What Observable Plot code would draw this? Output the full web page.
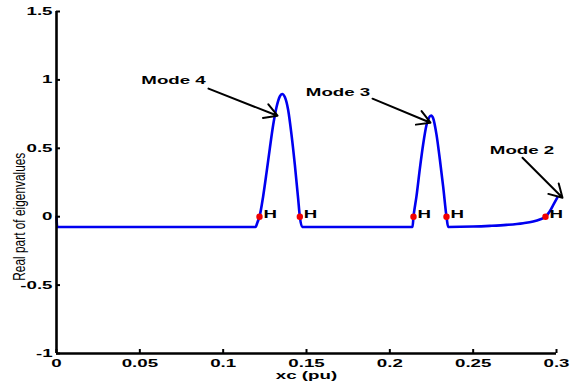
<!DOCTYPE html>
<html><head><meta charset="utf-8">
<script src="https://cdn.jsdelivr.net/npm/d3@7"></script>
<script src="https://cdn.jsdelivr.net/npm/@observablehq/plot@0.6"></script>
<style>body{margin:0;background:#fff}</style>
</head><body><div id="chart"></div>
<script>
// Curve: real part of eigenvalues vs xc
const xc = [0, 0.0004, 0.05, 0.1, 0.1194, 0.1206, 0.1218, 0.124, 0.126, 0.128, 0.130, 0.132, 0.134, 0.1354, 0.137, 0.139, 0.141, 0.143, 0.145, 0.146, 0.1474,
  0.18, 0.2136, 0.2142, 0.216, 0.218, 0.220, 0.222, 0.2235, 0.2248, 0.226, 0.228, 0.230, 0.232, 0.234, 0.235,
  0.25, 0.26, 0.27, 0.28, 0.286, 0.29, 0.2934, 0.296, 0.298, 0.3005];
const realPart = [0, -0.075, -0.075, -0.075, -0.075, -0.04, 0, 0.15, 0.32, 0.5, 0.67, 0.80, 0.88, 0.897, 0.875, 0.78, 0.6, 0.38, 0.13, 0, -0.075,
  -0.075, -0.075, 0, 0.15, 0.35, 0.53, 0.67, 0.725, 0.74, 0.72, 0.6, 0.42, 0.22, 0, -0.075,
  -0.072, -0.067, -0.06, -0.048, -0.035, -0.02, 0, 0.04, 0.085, 0.14];

// Hopf points
const hopfX = [0.1218, 0.146, 0.2142, 0.234, 0.2934];
const hopfY = [0, 0, 0, 0, 0];
const hopfLabel = ["H", "H", "H", "H", "H"];

// Mode annotations
const modeNames = ["Mode 4", "Mode 3", "Mode 2"];
const modeTextX = [0.0702, 0.1689, 0.2793];
const modeTextY = [0.994, 0.910, 0.482];
const arrowX1 = [0.0912, 0.1896, 0.2796];
const arrowY1 = [0.936, 0.8626, 0.431];
const arrowX2 = [0.1326, 0.2244, 0.3036];
const arrowY2 = [0.738, 0.687, 0.139];

// Axes
const xTicks = [0, 0.05, 0.1, 0.15, 0.2, 0.25, 0.3];
const yTicks = [-1, -0.5, 0, 0.5, 1, 1.5];
const xDomain = [0, 0.3];
const yDomain = [-1, 1.5];
const xTitle = "xc (pu)";
const xTitleAt = [0.15];
const yTitle = "Real part of eigenvalues";
const yTitleAt = [0];

const curve = xc.map((x, i) => ({x, y: realPart[i]}));
const hopf = hopfX.map((x, i) => ({x, y: hopfY[i], t: hopfLabel[i]}));
const modes = modeNames.map((m, i) => ({m, tx: modeTextX[i], ty: modeTextY[i], x1: arrowX1[i], y1: arrowY1[i], x2: arrowX2[i], y2: arrowY2[i]}));

const svg = Plot.plot({
  width: 578,
  height: 386,
  marginLeft: 56,
  marginRight: 22,
  marginTop: 11,
  marginBottom: 33,
  style: {fontFamily: "'Liberation Sans', Arial, sans-serif", fontSize: "11px", fontWeight: "bold", background: "#fff", color: "#000", overflow: "visible"},
  x: {domain: xDomain},
  y: {domain: yDomain},
  marks: [
    Plot.line(curve, {x: "x", y: "y", stroke: "#0000f0", strokeWidth: 2.6, curve: "monotone-x"}),
    Plot.dot(hopf, {x: "x", y: "y", r: 3.2, fill: "#f00000", stroke: null}),
    Plot.text(hopf, {x: "x", y: "y", text: "t", dx: 4, dy: -2, textAnchor: "start", fill: "#000"}),
    Plot.arrow(modes, {x1: "x1", y1: "y1", x2: "x2", y2: "y2", stroke: "#000", strokeWidth: 2, headLength: 11}),
    Plot.text(modes, {x: "tx", y: "ty", text: "m", fill: "#000"}),
    Plot.ruleX([xDomain[0]], {y1: yDomain[0], y2: yDomain[1], stroke: "#000", strokeWidth: 2.6}),
    Plot.ruleY([yDomain[0]], {x1: xDomain[0], x2: xDomain[1], stroke: "#000", strokeWidth: 2.6}),
    Plot.axisX({ticks: xTicks, tickFormat: d => String(d), tickSize: -4, tickPadding: 10, strokeWidth: 2, label: null}),
    Plot.axisY({ticks: yTicks, tickFormat: d => String(d), tickSize: -4, tickPadding: 8, strokeWidth: 2, label: null}),
    Plot.text([xTitle], {x: xTitleAt, frameAnchor: "bottom", dy: 22, text: d => d, lineAnchor: "middle", fill: "#000"}),
    Plot.text([yTitle], {x: xDomain[0], y: yTitleAt, text: d => d, rotate: -90, dx: -37, lineAnchor: "middle", fill: "#000", fontWeight: "normal", fontSize: 16, fontFamily: "'Liberation Sans', Arial, sans-serif"})
  ]
});
document.getElementById("chart").append(svg);

// stretch bold labels horizontally like the original export; condense the y title
svg.querySelectorAll("text").forEach(t => {
  const w = t.getComputedTextLength();
  if (!w) return;
  const isY = t.textContent === yTitle;
  t.setAttribute("textLength", (isY ? 128 : w * 1.7).toFixed(1));
  t.setAttribute("lengthAdjust", "spacingAndGlyphs");
});
</script>
</body></html>
